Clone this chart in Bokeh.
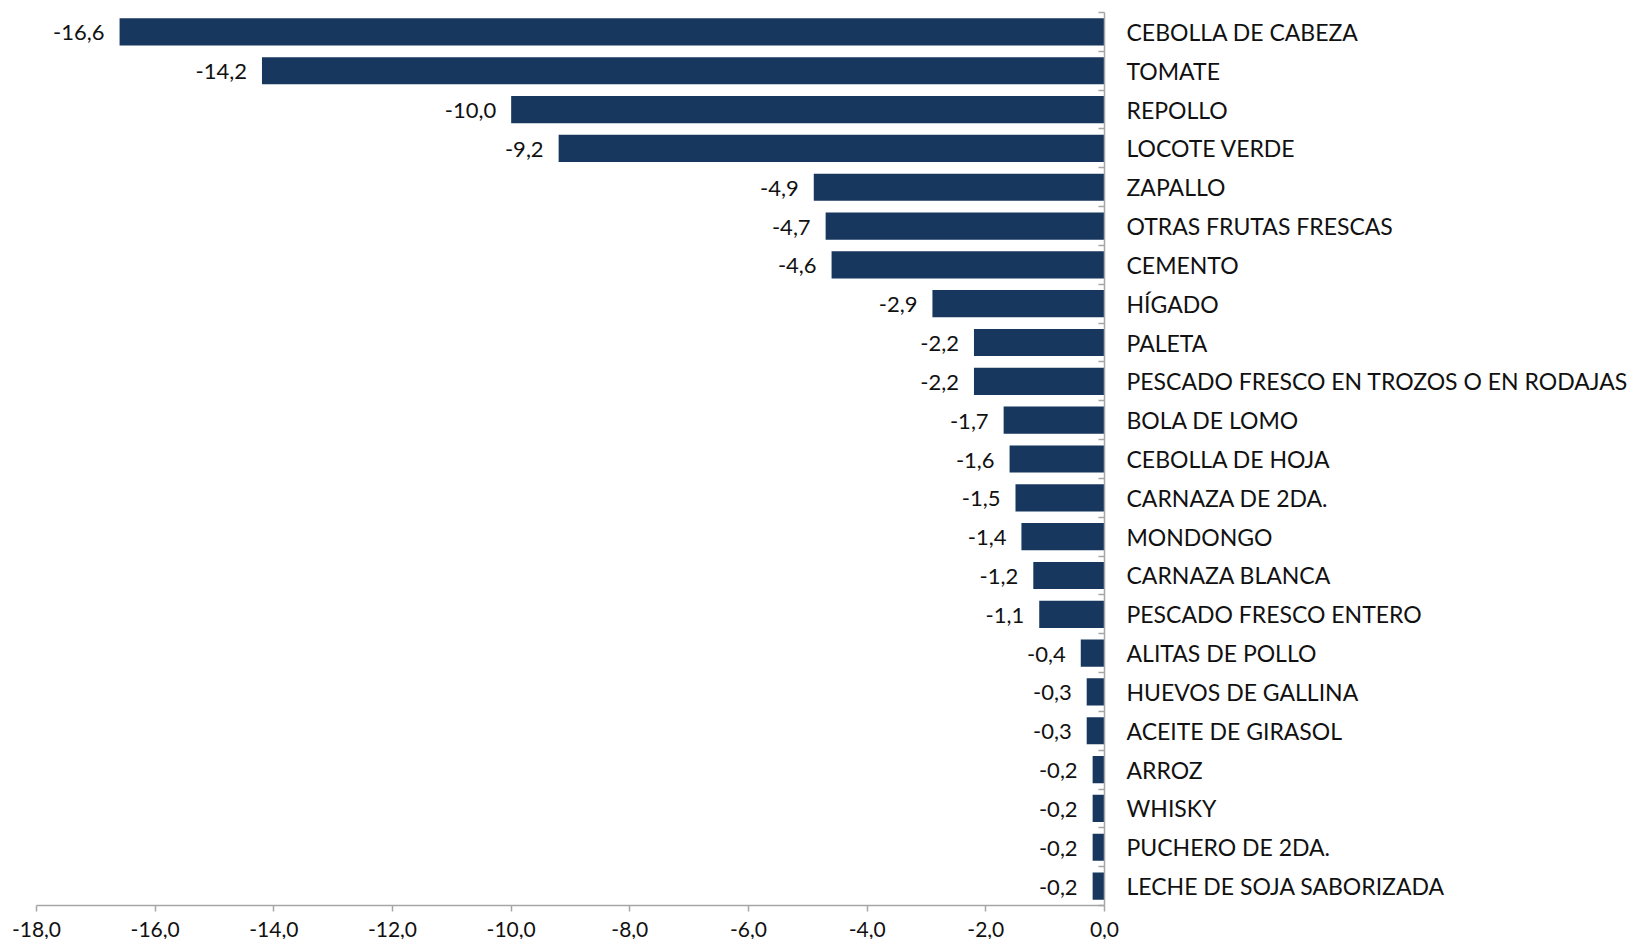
from bokeh.plotting import figure
from bokeh.models import ColumnDataSource, Range1d, FixedTicker, LinearAxis
from bokeh.core.properties import value
from bokeh.embed import file_html
from bokeh.resources import INLINE

categories = [
    "CEBOLLA DE CABEZA", "TOMATE", "REPOLLO", "LOCOTE VERDE", "ZAPALLO",
    "OTRAS FRUTAS FRESCAS", "CEMENTO", "HÍGADO", "PALETA",
    "PESCADO FRESCO EN TROZOS O EN RODAJAS", "BOLA DE LOMO", "CEBOLLA DE HOJA",
    "CARNAZA DE 2DA.", "MONDONGO", "CARNAZA BLANCA", "PESCADO FRESCO ENTERO",
    "ALITAS DE POLLO", "HUEVOS DE GALLINA", "ACEITE DE GIRASOL", "ARROZ",
    "WHISKY", "PUCHERO DE 2DA.", "LECHE DE SOJA SABORIZADA",
]
values = [
    -16.6, -14.2, -10.0, -9.2, -4.9, -4.7, -4.6, -2.9, -2.2, -2.2, -1.7, -1.6,
    -1.5, -1.4, -1.2, -1.1, -0.4, -0.3, -0.3, -0.2, -0.2, -0.2, -0.2,
]
x_ticks = [-18, -16, -14, -12, -10, -8, -6, -4, -2, 0]

FONT = "Lato"
BAR = "#17375E"
AXIS = "#A6A6A6"

n = len(categories)
idx = list(range(n))
src = ColumnDataSource(dict(
    y=idx, v=values, lab=[f"{v:.1f}".replace(".", ",") for v in values],
))

p = figure(
    frame_width=1068, frame_height=893,
    x_range=Range1d(x_ticks[0], x_ticks[-1]),
    y_range=Range1d(n - 0.5, -0.5),
    output_backend="svg", toolbar_location=None,
    x_axis_location="below", y_axis_location=None,
    min_border_left=36, min_border_top=12, min_border_right=0, min_border_bottom=0,
)
p.outline_line_color = None
p.xgrid.visible = False
p.ygrid.visible = False
p.background_fill_color = "white"
p.border_fill_color = "white"

p.hbar(y="y", left=0, right="v", height=0.7, source=src,
       fill_color=BAR, line_color=None)

p.text(x="v", y="y", text="lab", source=src, x_offset=-15, y_offset=1,
       text_align="right", text_baseline="middle",
       text_font=value(FONT), text_font_size="22px", text_color="#111111")

# bottom axis
xa = p.xaxis[0]
xa.ticker = FixedTicker(ticks=x_ticks)
xa.major_label_overrides = {t: f"{t:.1f}".replace(".", ",") for t in x_ticks}
xa.axis_line_color = AXIS
xa.axis_line_width = 1.5
xa.major_tick_line_color = AXIS
xa.major_tick_line_width = 1.5
xa.major_tick_in = 0
xa.major_tick_out = 6
xa.minor_tick_line_color = None
xa.major_label_text_font = FONT
xa.major_label_text_font_size = "21px"
xa.major_label_text_color = "#111111"
xa.major_label_standoff = 10

# right category axis at x = 0
ya = LinearAxis(
    ticker=FixedTicker(ticks=idx, minor_ticks=[i - 0.5 for i in range(n + 1)]),
    major_label_overrides={i: c for i, c in zip(idx, categories)},
)
ya.axis_line_color = AXIS
ya.axis_line_width = 1.5
ya.major_tick_line_color = None
ya.major_tick_in = 0
ya.major_tick_out = 0
ya.minor_tick_line_color = AXIS
ya.minor_tick_line_width = 1.5
ya.minor_tick_in = 6
ya.minor_tick_out = 0
ya.major_label_text_font = FONT
ya.major_label_text_font_size = "23px"
ya.major_label_text_color = "#111111"
ya.major_label_standoff = 22
p.add_layout(ya, "right")

open("out.html", "w").write(file_html(p, INLINE))
